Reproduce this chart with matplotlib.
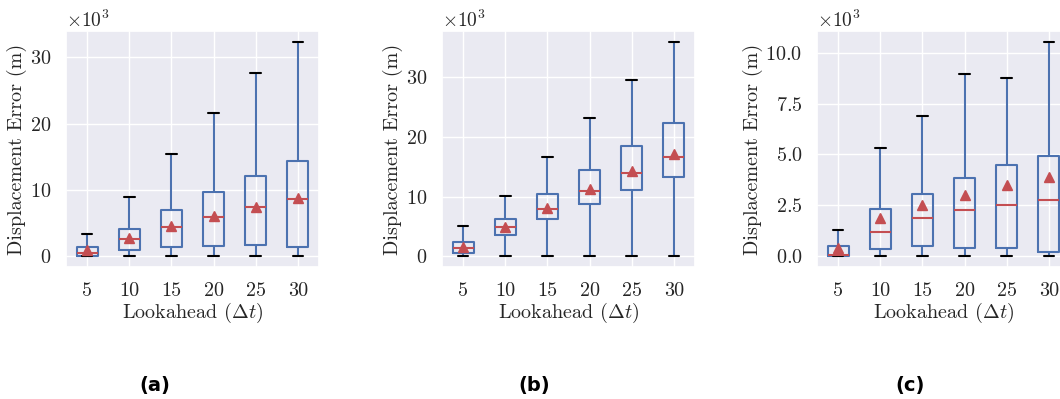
import matplotlib
matplotlib.use("Agg")
import matplotlib.pyplot as plt
from matplotlib.ticker import MultipleLocator
import seaborn as sns

# --- data (values in metres) ---
lookahead = [5, 10, 15, 20, 25, 30]

# panel (a)
a_low = [0, 0, 0, 0, 0, 0]
a_q1 = [50, 960, 1360, 1570, 1770, 1460]
a_med = [560, 2680, 4390, 5910, 7370, 8640]
a_q3 = [1360, 4140, 6970, 9650, 12170, 14390]
a_high = [3380, 8990, 15400, 21670, 27600, 32370]
a_mean = [960, 2780, 4500, 6100, 7500, 8800]

# panel (b)
b_low = [0, 0, 0, 50, 0, 0]
b_q1 = [560, 3600, 6240, 8760, 11070, 13370]
b_med = [1400, 4830, 7980, 11000, 13990, 16690]
b_q3 = [2360, 6240, 10400, 14500, 18540, 22360]
b_high = [5000, 10170, 16700, 23260, 29660, 36000]
b_mean = [1500, 4900, 8100, 11300, 14300, 17200]

# panel (c)
c_low = [0, 0, 0, 0, 0, 0]
c_q1 = [20, 380, 510, 430, 390, 230]
c_med = [70, 1200, 1860, 2250, 2530, 2760]
c_q3 = [490, 2340, 3080, 3830, 4490, 4950]
c_high = [1270, 5330, 6890, 8960, 8750, 10540]
c_mean = [430, 1890, 2500, 2990, 3500, 3870]

panels = [
    ("(a)", a_low, a_q1, a_med, a_q3, a_high, a_mean),
    ("(b)", b_low, b_q1, b_med, b_q3, b_high, b_mean),
    ("(c)", c_low, c_q1, c_med, c_q3, c_high, c_mean),
]
y_steps = [10000, 10000, 2500]

# --- style ---
sns.set_theme(style="darkgrid")
plt.rcParams["font.family"] = ["cmr10"]
plt.rcParams["mathtext.fontset"] = "cm"
plt.rcParams["axes.unicode_minus"] = False
plt.rcParams["axes.formatter.use_mathtext"] = True

blue = "#4C72B0"
red = "#C44E52"

fig = plt.figure(figsize=(10.6, 3.99), dpi=100)

lefts = [66, 442, 817]
caption_x = [155, 534, 910]

for i, (cap, low, q1, med, q3, high, mean) in enumerate(panels):
    ax = fig.add_axes([lefts[i] / 1060, 132 / 399, 253 / 1060, 236 / 399])
    stats = []
    for j in range(len(lookahead)):
        stats.append({"whislo": low[j], "q1": q1[j], "med": med[j],
                      "q3": q3[j], "whishi": high[j], "mean": mean[j],
                      "fliers": []})
    ax.bxp(stats, positions=range(1, len(lookahead) + 1), widths=0.5,
           showmeans=True, showfliers=False,
           boxprops=dict(color=blue, linewidth=1.5),
           whiskerprops=dict(color=blue, linewidth=1.5),
           capprops=dict(color="black", linewidth=1.5),
           medianprops=dict(color=red, linewidth=1.5),
           meanprops=dict(marker="^", markerfacecolor=red,
                          markeredgecolor=red, markersize=7))
    ax.set_xticks(range(1, len(lookahead) + 1))
    ax.set_xticklabels([str(v) for v in lookahead])
    ax.set_xlim(0.5, len(lookahead) + 0.5)
    ax.yaxis.set_major_locator(MultipleLocator(y_steps[i]))
    ax.ticklabel_format(axis="y", style="sci", scilimits=(3, 3))
    ax.tick_params(labelsize=14.5, pad=4.5)
    ax.yaxis.get_offset_text().set_fontsize(14)
    ax.set_ylabel("Displacement Error (m)", fontsize=14.5, labelpad=2)
    ax.set_xlabel(r"Lookahead ($\Delta t$)", fontsize=14.5, labelpad=1)
    fig.text(caption_x[i] / 1060, 1 - 386 / 399, cap, family="DejaVu Sans",
             fontweight="bold", fontsize=14, color="black",
             ha="center", va="center")

fig.savefig("out.png", dpi=100)
